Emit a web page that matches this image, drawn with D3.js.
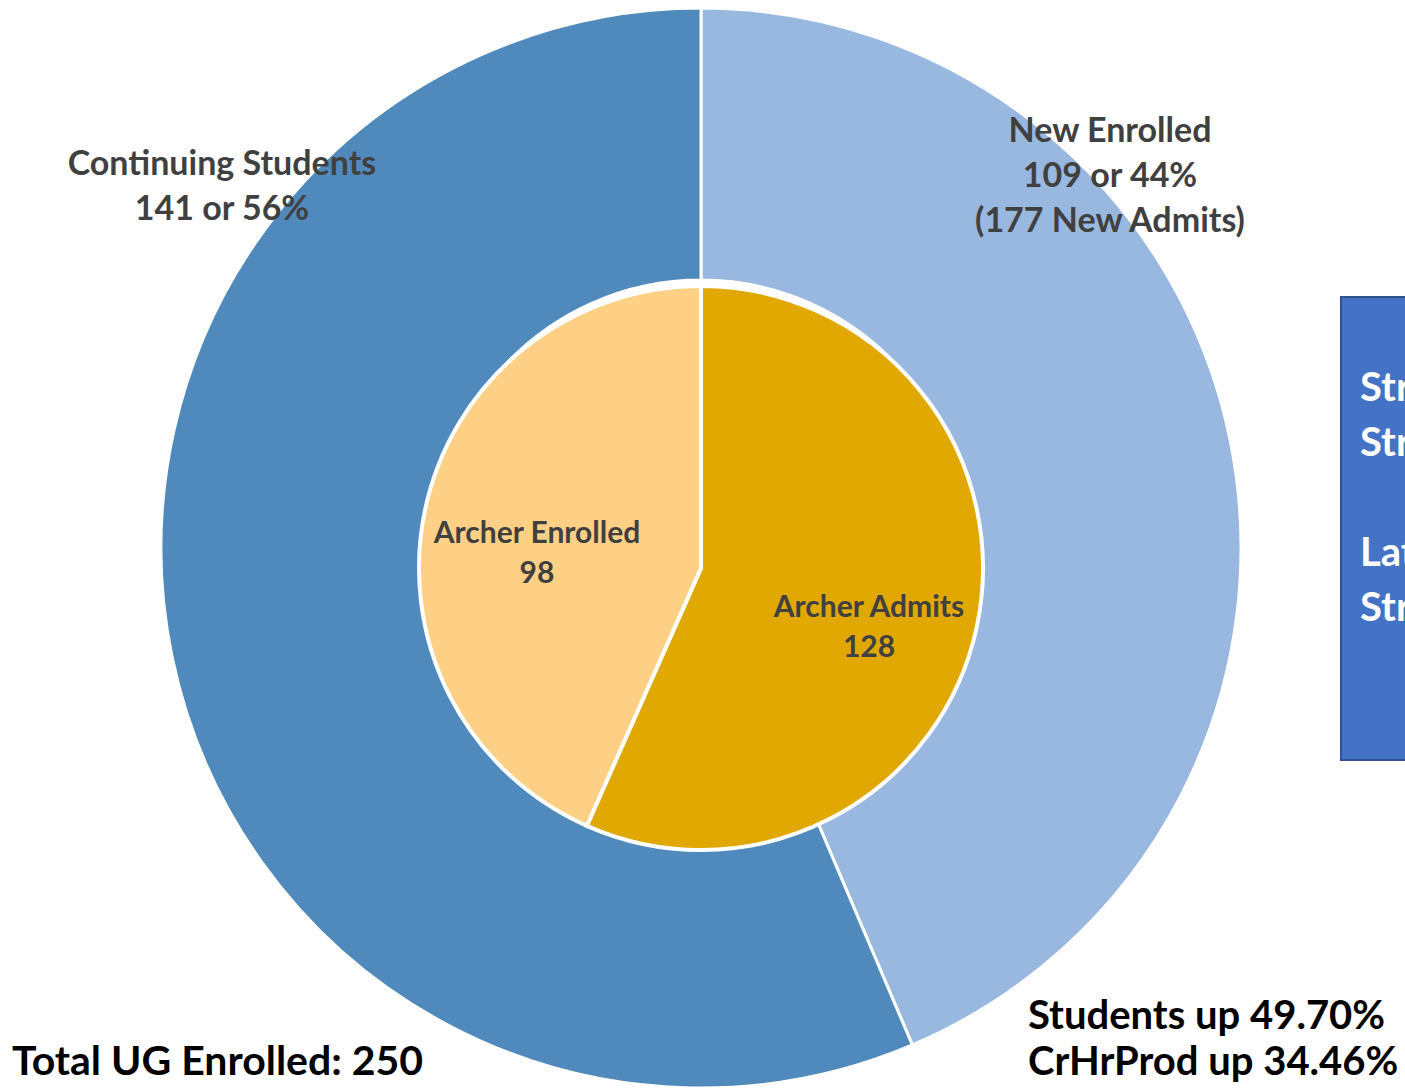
<!DOCTYPE html>
<html>
<head>
<meta charset="utf-8">
<script src="https://cdn.jsdelivr.net/npm/d3@7"></script>
<style>
  body { margin: 0; background: #fff; }
  svg { display: block; }
  text { font-family: Lato, "Open Sans", sans-serif; font-weight: 700; }
</style>
</head>
<body>
<svg class="chart"></svg>
<script>
const W = 1405;
const H = 1090;

// Outer ring: enrolled students
var outerNames  = ["New Enrolled", "Continuing Students"];
var outerValues = [109, 141];
var outerColors = ["#98b8df", "#508abc"];
var outerLabels = [["New Enrolled", "109 or 44%", "(177 New Admits)"],
                   ["Continuing Students", "141 or 56%"]];

// Inner pie: Archer
var innerNames  = ["Archer Admits", "Archer Enrolled"];
var innerValues = [128, 98];
var innerColors = ["#e0a800", "#fdd086"];
var innerLabels = [["Archer Admits", "128"], ["Archer Enrolled", "98"]];

// Side notes
var notes = ["Students up 49.70%", "CrHrProd up 34.46%"];
var totalText = "Total UG Enrolled: 250";
var boxLines = ["Str", "Str", "", "Lat", "Str"];

var svg = d3.select('.chart')
    .attr("width", W)
    .attr("height", H);

var cx = 701, cy = 548;   // ring centre
var icx = 701, icy = 568; // pie centre (slightly lower, like the original)

var pie = d3.pie().sort(null);

// Outer doughnut
var outerArc = d3.arc().innerRadius(268).outerRadius(540);
svg.append("g")
    .attr("transform", "translate(" + cx + "," + cy + ")")
  .selectAll("path")
  .data(pie(outerValues))
  .join("path")
    .attr("d", outerArc)
    .attr("fill", (d, i) => outerColors[i])
    .attr("stroke", "#fff")
    .attr("stroke-width", 3);

// Inner pie
var innerArc = d3.arc().innerRadius(0).outerRadius(282);
svg.append("g")
    .attr("transform", "translate(" + icx + "," + icy + ")")
  .selectAll("path")
  .data(pie(innerValues))
  .join("path")
    .attr("d", innerArc)
    .attr("fill", (d, i) => innerColors[i])
    .attr("stroke", "#fff")
    .attr("stroke-width", 4);

// label anchors (first baseline of each block)
var outerPos = [[1110, 142], [222, 175]];
var innerPos = [[869, 617], [537, 543]];

function block(lines, pos, size, gap) {
    var t = svg.append("text")
        .attr("text-anchor", "middle")
        .attr("fill", "#404040")
        .style("font-size", size + "px");
    lines.forEach((s, i) => {
        t.append("tspan")
            .attr("x", pos[0])
            .attr("y", pos[1] + i * gap)
            .text(s);
    });
}
outerLabels.forEach((l, i) => block(l, outerPos[i], 34, 45));
innerLabels.forEach((l, i) => block(l, innerPos[i], 30, 40));

// right-hand box, cut off by the page edge
svg.append("rect")
    .attr("x", 1341).attr("y", 297)
    .attr("width", 120).attr("height", 463)
    .attr("fill", "#4472c4")
    .attr("stroke", "#2f528f")
    .attr("stroke-width", 2);
var bt = svg.append("text")
    .attr("fill", "#fff")
    .style("font-size", "40px");
boxLines.forEach((s, i) => {
    bt.append("tspan").attr("x", 1360).attr("y", 401 + i * 55).text(s);
});

// bottom notes
var nt = svg.append("text")
    .attr("fill", "#000")
    .style("font-size", "40px");
notes.forEach((s, i) => {
    nt.append("tspan").attr("x", 1028).attr("y", 1029 + i * 46).text(s);
});
svg.append("text")
    .attr("x", 12).attr("y", 1075)
    .attr("fill", "#000")
    .style("font-size", "41px")
    .text(totalText);
</script>
</body>
</html>
